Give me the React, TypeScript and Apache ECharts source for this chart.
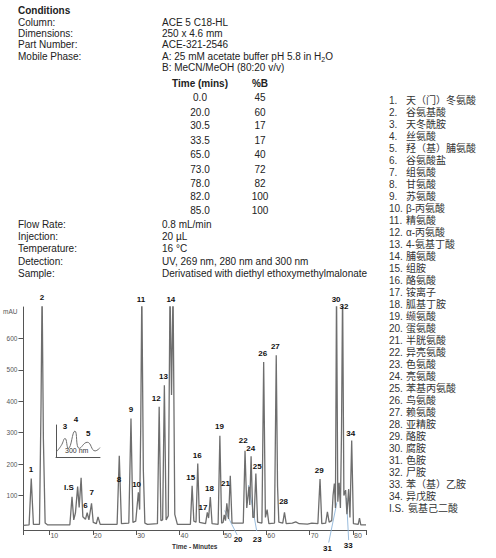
import React, { useEffect, useRef } from "react";
import * as echarts from "echarts";

// ---------- Data ----------
const conditionLabels = ["Column:", "Dimensions:", "Part Number:", "Mobile Phase:"];
const conditionValues = ["ACE 5 C18-HL", "250 x 4.6 mm", "ACE-321-2546", "A: 25 mM acetate buffer pH 5.8 in H{sub|2}O", "B: MeCN/MeOH (80:20 v/v)"];
const gradientTime = ["0.0", "20.0", "30.5", "33.5", "65.0", "73.0", "78.0", "82.0", "85.0"];
const gradientB = ["45", "60", "17", "17", "40", "72", "82", "100", "100"];
const otherLabels = ["Flow Rate:", "Injection:", "Temperature:", "Detection:", "Sample:"];
const otherValues = ["0.8 mL/min", "20 µL", "16 °C", "UV, 269 nm, 280 nm and 300 nm", "Derivatised with diethyl ethoxymethylmalonate"];

const legendNums = ["1.", "2.", "3.", "4.", "5.", "6.", "7.", "8.", "9.", "10.", "11.", "12.", "13.", "14.", "15.", "16.", "17.", "18.", "19.", "20.", "21.", "22.", "23.", "24.", "25.", "26.", "27.", "28.", "29.", "30.", "31.", "32.", "33.", "34.", "I.S."];
const legendNames = ["天（门）冬氨酸", "谷氨基酸", "天冬酰胺", "丝氨酸", "羟（基）脯氨酸", "谷氨酸盐", "组氨酸", "甘氨酸", "苏氨酸", "β-丙氨酸", "精氨酸", "α-丙氨酸", "4-氨基丁酸", "脯氨酸", "组胺", "酪氨酸", "铵离子", "胍基丁胺", "缬氨酸", "蛋氨酸", "半胱氨酸", "异亮氨酸", "色氨酸", "亮氨酸", "苯基丙氨酸", "鸟氨酸", "赖氨酸", "亚精胺", "酪胺", "腐胺", "色胺", "尸胺", "苯（基）乙胺", "异戊胺", "氨基己二酸"];

// chromatogram trace (minutes, mAU)
const traceTime = [4.0, 5.3, 5.8, 6.3, 7.7, 8.05, 8.3, 8.6, 9.0, 9.6, 14.7, 15.2, 15.6, 16.0, 16.5, 16.85, 17.3, 17.7, 18.3, 18.7, 19.1, 19.7, 20.1, 20.8, 21.2, 21.7, 25.6, 26.1, 26.6, 28.3, 28.8, 29.25, 29.9, 30.5, 30.8, 31.05, 31.3, 31.65, 32.0, 32.6, 34.9, 35.3, 35.7, 36.1, 36.5, 36.9, 37.4, 37.8, 38.15, 38.5, 38.9, 39.5, 42.5, 42.9, 43.3, 43.8, 44.2, 44.6, 46.0, 46.4, 46.7, 47.1, 47.5, 48.9, 49.3, 49.7, 50.05, 50.3, 50.6, 50.9, 51.3, 51.7, 52.1, 54.7, 55.1, 55.5, 56.0, 56.2, 56.5, 56.9, 57.2, 57.6, 58.0, 59.0, 59.4, 59.8, 60.2, 60.6, 61.9, 62.3, 62.6, 62.9, 63.8, 64.2, 64.6, 66.0, 66.8, 67.6, 69.5, 70.5, 71.9, 72.4, 72.8, 73.7, 74.1, 74.5, 75.1, 75.4, 75.7, 75.95, 76.2, 76.5, 76.8, 77.1, 77.35, 77.6, 77.9, 78.3, 78.6, 79.0, 79.3, 79.7, 80.1, 81.2, 81.5, 81.8, 83.0];
const traceMAU = [5, 6, 154, 8, 8, 380, 760, 280, 12, 6, 6, 96, 22, 45, 128, 62, 156, 32, 24, 45, 22, 75, 14, 10, 32, 8, 8, 226, 10, 12, 345, 14, 18, 110, 55, 320, 760, 180, 12, 8, 10, 382, 20, 22, 451, 22, 35, 760, 420, 760, 40, 8, 8, 131, 18, 15, 202, 14, 10, 46, 28, 95, 10, 8, 290, 12, 14, 38, 20, 75, 25, 163, 12, 12, 242, 60, 128, 70, 225, 30, 30, 170, 15, 12, 525, 30, 55, 10, 12, 546, 130, 15, 12, 46, 10, 12, 16, 10, 9, 12, 10, 152, 10, 12, 48, 15, 20, 100, 138, 60, 760, 80, 140, 60, 300, 760, 100, 117, 40, 120, 30, 275, 10, 8, 28, 6, 6];

// peak label positions (minutes, mAU) - label centres
const peakLabels = ["1", "2", "I.S", "6", "7", "8", "9", "10", "11", "12", "13", "14", "15", "16", "17", "18", "19", "20", "21", "22", "23", "24", "25", "26", "27", "28", "29", "30", "31", "32", "33", "34"];
const peakLabelT = [5.75, 8.3, 14.5, 18.3, 19.75, 26.05, 28.8, 30.1, 31.1, 34.6, 36.3, 38.0, 42.6, 44.1, 45.4, 46.9, 49.2, 53.5, 50.6, 54.7, 57.9, 56.4, 57.9, 59.2, 62.1, 64.0, 72.2, 76.1, 74.1, 77.9, 78.9, 79.5];
const peakLabelV = [184, 731, 125, 69, 110, 152, 375, 135, 724, 409, 480, 724, 156, 228, 61, 123, 318, -40, 138, 276, -40, 250, 191, 552, 573, 82, 181, 724, -68, 703, -58, 297];

// leader lines (minutes, mAU)
const leaderT = [[53.3, 51.6, 50.4], [57.8, 55.9], [74.4, 76.3], [79.0, 78.5]];
const leaderV = [[-26, 20, 52], [-13, 133], [-50, 78], [-42, 92]];

// inset (300 nm) trace, relative units
const insetX = [0.15, 1.2, 2.05, 2.8, 4.3, 5.3, 7.1, 8.9, 10];
const insetY = [1.7, 3.6, 5.8, 2.7, 8.1, 2.7, 4.6, 1.9, 2.9];
const insetLabels = ["3", "4", "5", "300 nm"];
const insetLabelX = [2.05, 4.55, 7.3, 4.7];
const insetLabelY = [9.6, 11.7, 7.4, 2.1];

const xTicks = [4, 10, 20, 30, 40, 50, 60, 70, 80, 83];
const xTickLabels = [10, 20, 30, 40, 50, 60, 70, 80];
const yTicks = [100, 200, 300, 400, 500, 600];
const yTickLabels = [100, 200, 300, 400, 500, 600, 686];

const FONT = '"Liberation Sans", Arial, sans-serif';
const CJK = '"Liberation Sans", "Noto Sans CJK SC", sans-serif';

function txt(x: number, y: number, text: string, opts: any = {}) {
  return {
    type: "text",
    x,
    y,
    silent: true,
    z: 100,
    style: {
      text,
      fill: opts.fill || "#222",
      font: opts.font || `10px ${FONT}`,
      align: opts.align || "left",
      verticalAlign: "middle",
      rich: opts.rich,
    },
  };
}

export default function App() {
  const ref = useRef<HTMLDivElement>(null);
  useEffect(() => {
    if (!ref.current) return;
    const chart = echarts.init(ref.current, null, { renderer: "svg" });

    chart.setOption({
      animation: false,
      backgroundColor: "#fff",
      grid: [
        { left: 21, right: 130, top: 307, bottom: 28 },
        { left: 56, top: 425, width: 44, height: 32 },
      ],
      xAxis: [
        {
          type: "value",
          min: 4,
          max: 83,
          gridIndex: 0,
          name: "Time - Minutes",
          nameLocation: "middle",
          nameGap: 13,
          nameTextStyle: { fontFamily: FONT, fontSize: 6.5, fontWeight: "bold", color: "#333" },
          axisLine: { show: true, onZero: false, lineStyle: { color: "#555", width: 1 } },
          axisTick: { show: true, length: 5, customValues: xTicks, lineStyle: { color: "#555" } },
          axisLabel: {
            show: true,
            customValues: xTickLabels,
            fontSize: 7,
            fontFamily: FONT,
            color: "#555",
            align: "left",
            margin: 2,
            padding: [0, 0, 0, 1],
          },
          splitLine: { show: false },
        },
        {
          type: "value",
          min: 0,
          max: 10,
          gridIndex: 1,
          axisLine: { show: true, onZero: false, lineStyle: { color: "#555", width: 1 } },
          axisTick: { show: false },
          axisLabel: { show: false },
          splitLine: { show: false },
        },
      ],
      yAxis: [
        {
          type: "value",
          min: -10,
          max: 700,
          gridIndex: 0,
          axisLine: { show: true, onZero: false, lineStyle: { color: "#555", width: 1 } },
          axisTick: { show: true, length: 5, customValues: yTicks, lineStyle: { color: "#555" } },
          axisLabel: {
            show: true,
            customValues: yTickLabels,
            formatter: (v: number) => (v > 650 ? "mAU" : String(v)),
            fontSize: 6.5,
            fontFamily: FONT,
            color: "#555",
            margin: 6,
          },
          splitLine: { show: false },
        },
        {
          type: "value",
          min: 0,
          max: 10,
          gridIndex: 1,
          axisLine: { show: true, onZero: false, lineStyle: { color: "#555", width: 1 } },
          axisTick: { show: false },
          axisLabel: { show: false },
          splitLine: { show: false },
        },
      ],
      series: [
        {
          type: "line",
          xAxisIndex: 0,
          yAxisIndex: 0,
          data: traceTime.map((t, i) => [t, traceMAU[i]]),
          symbol: "none",
          showSymbol: false,
          lineStyle: { color: "#6e6e6e", width: 1.3 },
          clip: true,
          silent: true,
        },
        {
          type: "lines",
          coordinateSystem: "cartesian2d",
          xAxisIndex: 0,
          yAxisIndex: 0,
          polyline: true,
          clip: false,
          silent: true,
          lineStyle: { color: "#8db4d9", width: 0.9, opacity: 1 },
          data: leaderT.map((ts, i) => ({ coords: ts.map((t, j) => [t, leaderV[i][j]]) })),
        },
        {
          type: "line",
          xAxisIndex: 1,
          yAxisIndex: 1,
          smooth: 0.5,
          symbol: "none",
          showSymbol: false,
          silent: true,
          lineStyle: { color: "#6e6e6e", width: 1 },
          data: insetX.map((x, i) => [x, insetY[i]]),
        },
      ],
    });

    // Texts: conditions, legend, and peak labels placed via the chart's own axes
    const graphic: any[] = [];
    graphic.push(txt(18, 10, "Conditions", { font: `bold 10px ${FONT}` }));
    const rowY1 = [22.3, 33.7, 44.6, 56];
    conditionLabels.forEach((l, i) => graphic.push(txt(18, rowY1[i], l)));
    const valY = [22.3, 33.7, 44.6, 56, 67.7];
    conditionValues.forEach((v, i) =>
      graphic.push(
        txt(162, valY[i], v, {
          rich: {
            sub: { fontSize: 7, fontFamily: FONT, fill: "#222", verticalAlign: "bottom", lineHeight: 14 },
          },
        })
      )
    );
    graphic.push(txt(200, 83.3, "Time (mins)", { font: `bold 10px ${FONT}`, align: "center" }));
    graphic.push(txt(260, 83.3, "%B", { font: `bold 10px ${FONT}`, align: "center" }));
    const gy = [97.7, 112.3, 125.5, 140, 154.7, 169, 183, 196.9, 210.9];
    gradientTime.forEach((t, i) => {
      graphic.push(txt(200, gy[i], t, { align: "center" }));
      graphic.push(txt(260, gy[i], gradientB[i], { align: "center" }));
    });
    const oy = [224, 236.6, 248.6, 261, 273];
    otherLabels.forEach((l, i) => {
      graphic.push(txt(18, oy[i], l));
      graphic.push(txt(162, oy[i], otherValues[i]));
    });
    legendNums.forEach((n, i) => {
      const y = 100 + i * 12;
      graphic.push(txt(389, y, n, { font: `10px ${FONT}`, fill: "#333" }));
      graphic.push(txt(i === 34 ? 408 : 406, y, legendNames[i], { font: `10px ${CJK}`, fill: "#333" }));
    });
    peakLabels.forEach((n, i) => {
      const p = chart.convertToPixel({ xAxisIndex: 0, yAxisIndex: 0 }, [peakLabelT[i], peakLabelV[i]]) as number[];
      graphic.push(txt(p[0], p[1], n, { font: `bold 8px ${FONT}`, fill: "#111", align: "center" }));
    });
    insetLabels.forEach((n, i) => {
      const p = chart.convertToPixel({ xAxisIndex: 1, yAxisIndex: 1 }, [insetLabelX[i], insetLabelY[i]]) as number[];
      graphic.push(
        txt(p[0], p[1], n, {
          font: i === 3 ? `7px ${FONT}` : `bold 8px ${FONT}`,
          fill: i === 3 ? "#333" : "#111",
          align: "center",
        })
      );
    });
    chart.setOption({ graphic });

    return () => chart.dispose();
  }, []);
  return (
    <div
      ref={ref}
      style={{ position: "absolute", left: 0, top: 0, width: 496, height: 558, background: "#fff" }}
    />
  );
}
